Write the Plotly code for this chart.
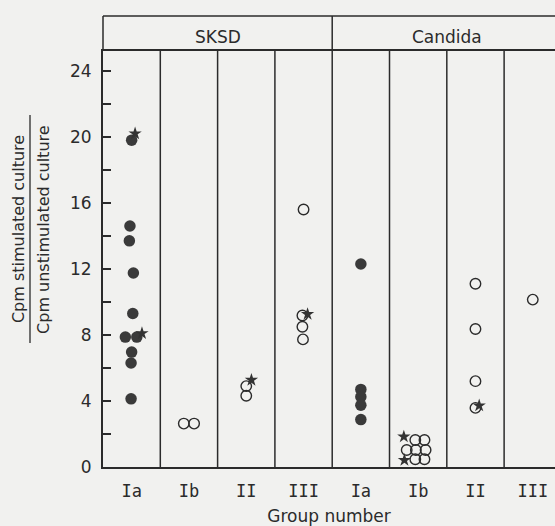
import plotly.graph_objects as go

# ---- data ----
categories = ["Ia", "Ib", "II", "III", "Ia", "Ib", "II", "III"]
antigens = ["SKSD", "Candida"]
y_tick_values = [0, 2, 4, 6, 8, 10, 12, 14, 16, 18, 20, 22, 24]
y_tick_labels = ["0", "", "4", "", "8", "", "12", "", "16", "", "20", "", "24"]

# filled circles: group index (0-7), value, horizontal jitter within column
filled_group = [0, 0, 0, 0, 0, 0, 0, 0, 0, 0, 4, 4, 4, 4, 4]
filled_value = [19.8, 14.6, 13.7, 11.75, 9.3, 7.87, 7.87, 6.96, 6.3, 4.13,
                12.3, 4.7, 4.25, 3.74, 2.87]
filled_jitter = [0, -0.03, -0.04, 0.03, 0.02, -0.11, 0.09, 0, -0.01, -0.01,
                 0, 0, 0, 0, 0]

# open circles
open_group = [1, 1, 2, 2, 3, 3, 3, 3, 5, 5, 5, 5, 5, 5, 5, 6, 6, 6, 6, 7]
open_value = [2.63, 2.63, 4.9, 4.32, 15.6, 9.18, 8.5, 7.73,
              1.64, 1.64, 1.03, 1.03, 1.03, 0.47, 0.47,
              11.1, 8.36, 5.2, 3.58, 10.14]
open_jitter = [-0.09, 0.09, 0, 0, 0, -0.02, -0.02, -0.01,
               -0.05, 0.11, -0.2, -0.04, 0.13, -0.05, 0.11,
               0, 0, 0, 0, 0]

# asterisk marks
star_group = [0, 0, 2, 3, 5, 5, 6]
star_value = [20.2, 8.1, 5.27, 9.26, 1.84, 0.42, 3.72]
star_jitter = [0.06, 0.18, 0.09, 0.07, -0.25, -0.24, 0.065]

# ---- figure ----
XMAX = 7.888
YMAX = 25.2
INK = "#2b2b2b"
BG = "#f1f1ef"
FONT = "DejaVu Sans"

def xs(groups, jit):
    return [g + 0.5 + j for g, j in zip(groups, jit)]

fig = go.Figure()
fig.add_trace(go.Scatter(
    x=xs(open_group, open_jitter), y=open_value, mode="markers",
    marker=dict(size=10.5, color="rgba(0,0,0,0)", line=dict(color=INK, width=1.4)),
    showlegend=False, cliponaxis=False))
fig.add_trace(go.Scatter(
    x=xs(filled_group, filled_jitter), y=filled_value, mode="markers",
    marker=dict(size=11.5, color="#3a3a3a", line=dict(width=0)),
    showlegend=False, cliponaxis=False))
fig.add_trace(go.Scatter(
    x=xs(star_group, star_jitter), y=star_value, mode="markers",
    marker=dict(size=10, symbol="star", color="#333333", line=dict(width=0)),
    showlegend=False, cliponaxis=False))

shapes = []
# column dividers
for i in range(1, 8):
    shapes.append(dict(type="line", xref="paper", yref="paper",
                       x0=i / XMAX, x1=i / XMAX, y0=0, y1=1,
                       line=dict(color=INK, width=1.5)))
HEAD = 1.084
# header box
shapes.append(dict(type="line", xref="paper", yref="paper", x0=0, x1=1,
                   y0=HEAD, y1=HEAD, line=dict(color=INK, width=1.5)))
shapes.append(dict(type="line", xref="paper", yref="paper", x0=0, x1=0,
                   y0=1, y1=HEAD, line=dict(color=INK, width=1.5)))
shapes.append(dict(type="line", xref="paper", yref="paper", x0=4 / XMAX, x1=4 / XMAX,
                   y0=1, y1=HEAD, line=dict(color=INK, width=1.5)))
# fraction bar of the y title
shapes.append(dict(type="line", xref="paper", yref="paper", x0=-0.1615, x1=-0.1615,
                   y0=0.298, y1=0.846, line=dict(color=INK, width=1.3)))

annotations = [
    dict(text=antigens[0], x=2 / XMAX, y=1.034, xref="paper", yref="paper",
         xanchor="center", yanchor="middle",
         showarrow=False, font=dict(family=FONT, size=17, color=INK)),
    dict(text=antigens[1], x=6 / XMAX, y=1.034, xref="paper", yref="paper",
         xanchor="center", yanchor="middle",
         showarrow=False, font=dict(family=FONT, size=17, color=INK)),
    dict(text="Cpm stimulated culture", x=-0.188, y=0.572, xref="paper", yref="paper",
         xanchor="center", yanchor="middle",
         textangle=-90, showarrow=False, font=dict(family=FONT, size=16, color=INK)),
    dict(text="Cpm unstimulated culture", x=-0.133, y=0.572, xref="paper", yref="paper",
         xanchor="center", yanchor="middle",
         textangle=-90, showarrow=False, font=dict(family=FONT, size=16, color=INK)),
]

fig.update_layout(
    width=555, height=526,
    margin=dict(l=103, r=0, t=51, b=59),
    paper_bgcolor=BG, plot_bgcolor=BG,
    shapes=shapes, annotations=annotations,
    xaxis=dict(range=[0, XMAX], tickvals=[i + 0.5 for i in range(8)], ticktext=categories,
               ticks="", showgrid=False, zeroline=False,
               showline=True, mirror=True, linecolor=INK, linewidth=2,
               tickfont=dict(family="DejaVu Sans Mono", size=17, color=INK),
               ticklabelstandoff=8,
               title=dict(text="Group number", font=dict(family=FONT, size=17, color=INK),
                          standoff=10)),
    yaxis=dict(range=[0, YMAX], tickvals=y_tick_values, ticktext=y_tick_labels,
               ticks="inside", ticklen=8, tickwidth=1.5, tickcolor=INK,
               showgrid=False, zeroline=False, showline=True, linecolor=INK, linewidth=2,
               tickfont=dict(family=FONT, size=17, color=INK), ticklabelstandoff=6),
)

fig.write_html("out.html", config={"displayModeBar": False},
               post_script="document.body.style.margin='0px';")
